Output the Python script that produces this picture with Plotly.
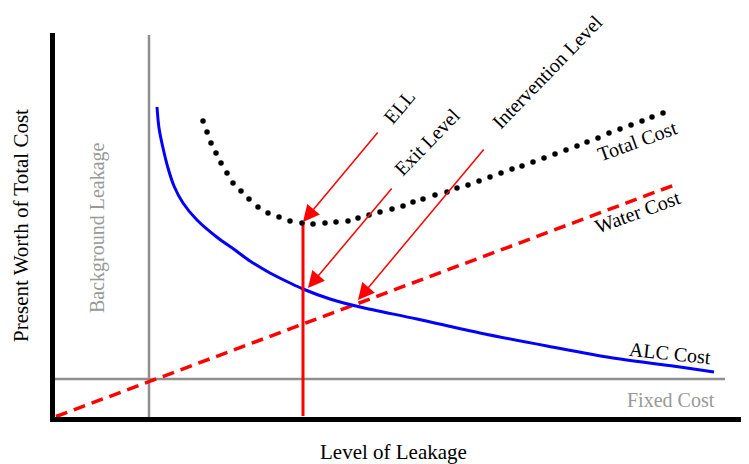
import plotly.graph_objects as go

# Schematic units: level of leakage (x) and present-worth cost (y), origin at the axes corner
alc_level = [105, 107, 111, 116, 122, 131, 145, 166, 183, 198, 218, 238, 251, 278, 308, 365, 428, 495, 561, 628, 662]
alc_cost = [313, 292, 272, 252, 234, 217, 200, 182, 170, 159, 147, 137, 131, 121, 113, 101, 87, 74, 62, 53, 48]

total_level = [151, 155, 159, 164, 169, 175, 181, 189, 197, 206, 216, 227, 238, 250, 261, 273, 284, 296,
               306, 317, 328, 340, 351, 361, 371, 383, 395, 405, 416, 427, 438, 449, 460, 470, 481, 492,
               503, 514, 525, 535, 546, 557, 568, 579, 590, 600, 611]
total_cost = [299, 288, 277, 267, 257, 247, 237, 229, 221, 213, 207, 203, 199, 197, 196, 197, 198, 199,
              202, 205, 208, 211, 214, 218, 221, 225, 228, 232, 235, 239, 243, 247, 251, 254, 258, 262,
              266, 270, 274, 278, 282, 287, 291, 295, 299, 303, 307]

water_level = [4, 625]
water_cost = [3.5, 236]

background_level = 97
fixed_cost = 41
ell_level = 251
ell_cost = 198

arrow_tails = {"ELL": (327, 289), "Exit Level": (341, 233), "Intervention Level": (433, 272)}
arrow_heads = {"ELL": (251, 198), "Exit Level": (256, 132), "Intervention Level": (306, 120)}

labels = [
    ("ELL", 347, 313, -50, "black"),
    ("Exit Level", 375, 278, -46, "black"),
    ("Intervention Level", 495, 348, -46, "black"),
    ("Total Cost", 585, 279, -20, "black"),
    ("Water Cost", 585, 208, -20, "black"),
    ("ALC Cost", 618, 67, 6, "black"),
    ("Fixed Cost", 619, 20, 0, "#999999"),
    ("Background Leakage", 45, 192, -90, "#999999"),
]

FONT = "Liberation Serif"
GRAY = "#8f8f8f"

fig = go.Figure()

# background leakage vertical and fixed cost horizontal
fig.add_trace(go.Scatter(x=[background_level, background_level], y=[0, 385], mode="lines",
                         line=dict(color=GRAY, width=2.5), hoverinfo="skip"))
fig.add_trace(go.Scatter(x=[3, 673], y=[fixed_cost, fixed_cost], mode="lines",
                         line=dict(color=GRAY, width=2.5), hoverinfo="skip"))
# water cost
fig.add_trace(go.Scatter(x=water_level, y=water_cost, mode="lines",
                         line=dict(color="#ff0000", width=3.5, dash="12px,7px"), hoverinfo="skip"))
# ALC cost
fig.add_trace(go.Scatter(x=alc_level, y=alc_cost, mode="lines", line_shape="spline",
                         line=dict(color="#0000ff", width=3, smoothing=0.9), hoverinfo="skip"))
# ELL vertical
fig.add_trace(go.Scatter(x=[ell_level, ell_level], y=[4, ell_cost], mode="lines",
                         line=dict(color="#ff0000", width=3), hoverinfo="skip"))
# total cost dots
fig.add_trace(go.Scatter(x=total_level, y=total_cost, mode="markers",
                         marker=dict(color="black", size=5.5), hoverinfo="skip"))

for name in arrow_tails:
    tx, ty = arrow_tails[name]
    hx, hy = arrow_heads[name]
    fig.add_annotation(x=hx, y=hy, ax=tx, ay=ty, xref="x", yref="y", axref="x", ayref="y",
                       text="", showarrow=True, arrowhead=2, arrowsize=2.2, arrowwidth=1.5,
                       arrowcolor="#ff0000", standoff=0)

for text, x, y, ang, col in labels:
    fig.add_annotation(x=x, y=y, xref="x", yref="y", text=text, showarrow=False,
                       textangle=ang, font=dict(family=FONT, size=20, color=col),
                       xanchor="center", yanchor="middle")

fig.add_annotation(x=-0.049, y=0.5, xref="paper", yref="paper", text="Present Worth of Total Cost",
                   showarrow=False, textangle=-90, font=dict(family=FONT, size=21, color="black"),
                   xanchor="center", yanchor="middle")
fig.add_annotation(x=0.488, y=-0.091, xref="paper", yref="paper", text="Level of Leakage",
                   showarrow=False, font=dict(family=FONT, size=21, color="black"),
                   xanchor="center", yanchor="middle")

# the page body adds an 8px offset, so margins are shifted by 8px
fig.update_layout(
    width=749, height=464,
    margin=dict(l=47, r=8, t=25, b=55),
    paper_bgcolor="white", plot_bgcolor="white",
    showlegend=False,
    xaxis=dict(range=[3, 697], showgrid=False, zeroline=False, showticklabels=False, ticks="",
               showline=True, linecolor="black", linewidth=5, fixedrange=True),
    yaxis=dict(range=[3, 387], showgrid=False, zeroline=False, showticklabels=False, ticks="",
               showline=True, linecolor="black", linewidth=5, fixedrange=True),
)

fig.write_html("out.html", config={"displayModeBar": False})
